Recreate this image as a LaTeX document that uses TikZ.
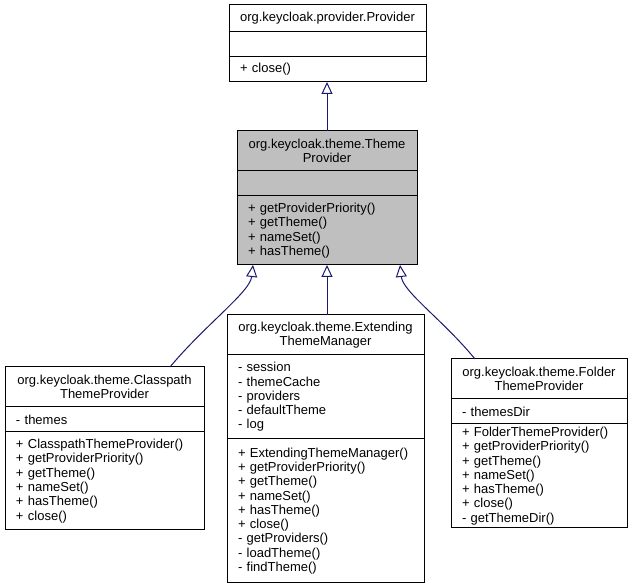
\documentclass[tikz,border=0pt]{standalone}
\usepackage{fontspec}
\setmainfont{Liberation Sans}
\usepackage{xcolor}
\usetikzlibrary{arrows.meta,positioning}

\definecolor{edgeblue}{HTML}{191970}
\definecolor{curgray}{HTML}{BFBFBF}

\begin{document}
\begin{tikzpicture}[
  x=1pt, y=-1pt,
  part/.style={draw, line width=1pt, outer sep=0pt,
               inner ysep=1pt, font=\fontsize{13}{14.3}\selectfont},
  head/.style={part, inner xsep=8pt, align=center},
  body/.style={part, inner xsep=11pt, align=left},
  inherit/.style={draw=edgeblue, line width=1pt,
                  -{Triangle[open, length=12pt, width=11pt]}},
]
  \useasboundingbox (0,0) rectangle (633,588);

  % base interface
  \node[head, anchor=north west, text width=181pt, minimum height=27pt] (pvtitle) at (229,5)
    {org.keycloak.provider.Provider};
  \node[body, below=0pt of pvtitle, text width=175pt, minimum height=25pt] (pvattr) {};
  \node[body, below=0pt of pvattr, text width=175pt, minimum height=25pt] (pvmeth)
    {+ close()};

  % current class
  \node[head, anchor=north west, fill=curgray, text width=164pt, minimum height=40pt] (tptitle) at (237,131)
    {org.keycloak.theme.Theme\\Provider};
  \node[body, below=0pt of tptitle, fill=curgray, text width=158pt, minimum height=25pt] (tpattr) {};
  \node[body, below=0pt of tpattr, fill=curgray, text width=158pt, minimum height=69pt] (tpmeth)
    {+ getProviderPriority()\\+ getTheme()\\+ nameSet()\\+ hasTheme()};

  % implementations
  \node[head, anchor=north west, text width=183pt, minimum height=40pt] (cptitle) at (5,367)
    {org.keycloak.theme.Classpath\\ThemeProvider};
  \node[body, below=0pt of cptitle, text width=177pt, minimum height=25pt] (cpattr)
    {- themes};
  \node[body, below=0pt of cpattr, text width=177pt, minimum height=98pt] (cpmeth)
    {+ ClasspathThemeProvider()\\+ getProviderPriority()\\+ getTheme()\\+ nameSet()\\+ hasTheme()\\+ close()};

  \node[head, anchor=north west, text width=181pt, minimum height=40pt] (extitle) at (227,315)
    {org.keycloak.theme.Extending\\ThemeManager};
  \node[body, below=0pt of extitle, text width=175pt, minimum height=84pt] (exattr)
    {- session\\- themeCache\\- providers\\- defaultTheme\\- log};
  \node[body, below=0pt of exattr, text width=175pt, minimum height=144pt] (exmeth)
    {+ ExtendingThemeManager()\\+ getProviderPriority()\\+ getTheme()\\+ nameSet()\\+ hasTheme()\\+ close()\\- getProviders()\\- loadTheme()\\- findTheme()};

  \node[head, anchor=north west, text width=160pt, minimum height=40pt] (fdtitle) at (451,359)
    {org.keycloak.theme.Folder\\ThemeProvider};
  \node[body, below=0pt of fdtitle, text width=154pt, minimum height=25pt] (fdattr)
    {- themesDir};
  \node[body, below=0pt of fdattr, text width=154pt, minimum height=104pt] (fdmeth)
    {+ FolderThemeProvider()\\+ getProviderPriority()\\+ getTheme()\\+ nameSet()\\+ hasTheme()\\+ close()\\- getThemeDir()};

  % generalisation edges
  \draw[inherit] (tptitle.north) -- (tptitle.north |- pvmeth.south);
  \draw[inherit] ([xshift=-34pt]cptitle.north east)
    .. controls (205,325) and (250,292) .. ([xshift=16pt]tpmeth.south west);
  \draw[inherit] (extitle.north -| tptitle.north) -- (tptitle.north |- tpmeth.south);
  \draw[inherit] ([xshift=24pt]fdtitle.north west)
    .. controls (443,320) and (403,292) .. ([xshift=-17pt]tpmeth.south east);
\end{tikzpicture}
\end{document}
